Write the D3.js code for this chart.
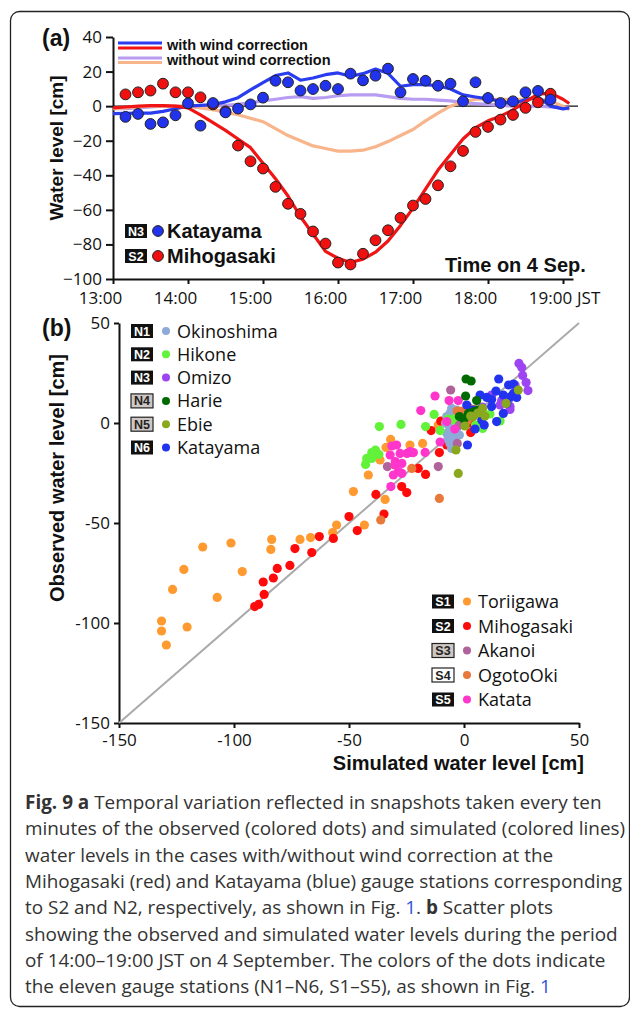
<!DOCTYPE html>
<html>
<head>
<meta charset="utf-8">
<script src="https://cdn.jsdelivr.net/npm/d3@7"></script>
<style>
  body { margin: 0; background: #fff; }
</style>
</head>
<body>
<div id="chart"></div>
<script>
// ---------- panel (a) data ----------
const obsTimes = ["13:10","13:20","13:30","13:40","13:50","14:00","14:10","14:20","14:30","14:40","14:50",
  "15:00","15:10","15:20","15:30","15:40","15:50","16:00","16:10","16:20","16:30","16:40","16:50",
  "17:00","17:10","17:20","17:30","17:40","17:50","18:00","18:10","18:20","18:30","18:40","18:50"];
const katayamaObs = [-6.2,-4.5,-10.3,-9.4,-5.3,1.6,-11.3,1.8,-3.6,-1.4,1,4.9,14.7,13.8,9,9.9,11.8,9.9,
  18.8,14.9,17.6,21.7,8,15.7,14.7,11.8,13,2.8,13.8,4.7,1.8,2.8,8,8.8,3.8];
const mihogasakiObs = [6.8,8,9,13,8,8,5.1,1,-3,-22.8,-31.9,-36.1,-46.7,-56.5,-62.3,-72.5,-79.5,-90.5,
  -91.6,-85.4,-77.6,-71.8,-64.6,-57.5,-53.7,-45.8,-34.8,-25.9,-14.9,-12,-7.8,-5.1,-1,2.2,7.2];

const simTimes = ["13:00","13:10","13:20","13:30","13:40","13:50","14:00","14:10","14:20","14:30","14:40","14:50",
  "15:00","15:10","15:20","15:30","15:40","15:50","16:00","16:10","16:20","16:30","16:40","16:50",
  "17:00","17:10","17:20","17:30","17:40","17:50","18:00","18:10","18:20","18:30","18:40","18:50","19:00","19:05"];
const katayamaWind = [-4.3,-4.2,-4,-4,-3,-1.5,0,0.5,0.9,2.5,4.9,9.4,13.6,17.7,19.2,15,16.3,18.2,19.2,17.3,
  18.8,21.5,19,11.5,12.4,12.4,11.8,9.9,6.5,5.3,4.2,2.8,1.2,3.8,5.3,0,-1.6,-1];
const mihogasakiWind = [-1,-0.5,0,0.3,0.3,0,-1,-5,-9.5,-14,-19,-24,-33,-42,-52,-64,-74,-84,-88,-90.5,
  -88.5,-84.5,-78,-69,-59,-48,-37,-28,-19,-12.5,-8.5,-5.8,-2.2,2.5,7,7.5,4,1.5];
const katayamaNoWind = [-1.5,-1.5,-1,-0.5,0,0,0,0,0,0.5,1,2,3,4,5,5.5,4.5,5,6,6.5,6.5,6.5,5.5,4.5,4,4,
  3.5,3,2,1.5,1,0.5,0,0,0,-0.5,-1,-1];
const mihogasakiNoWind = [-1.5,-1,-0.5,0,0,0,0,-1,-2,-3.5,-5,-7,-9,-13,-17,-20,-23,-24.5,-26,-26,-25.5,
  -23.5,-20.5,-17,-13.5,-8.5,-4,0,2.5,4,4,4,4,4,4,3,0,-2];

const hourTicks = ["13:00","14:00","15:00","16:00","17:00","18:00","19:00"];
const levelTicksA = [-100,-80,-60,-40,-20,0,20,40];

// ---------- panel (b) data: [simulated, observed] ----------
const okinoshima = [[-5.4,7.3],[-7.5,3.2],[-6.8,-1],[-7.5,-5.2],[-4,-6.8],[-2,-6],[-6.1,-10.2],[-5.4,-12.7],
  [-3.2,6.5],[-4.6,1.5],[-3.2,-2.7],[-1.7,-0.2],[-6.1,4.8],[-8,0],[-5,-3.5],[-3,3.5],[-7,-8]];
const hikone = [[-36.8,-1.8],[-27.4,-0.7],[-16.7,-1.8],[-13,4.3],[-10.4,-3.8],[-3.9,2.3],[8.1,-2.7],[11.3,4.5],
  [15.7,1],[-40.1,-14.8],[-42.3,-17.7],[-37,-15.7],[-42.8,-20.7],[-40.1,-17.7],[-38.5,-13.5],[-7,2],[5,-1],[-4.7,1.5]];
const omizo = [[23.9,29.8],[25.1,27.8],[25.5,23.8],[27,20.2],[27.8,16.2],[22.2,19],[20,6.8],[16.4,11.2],
  [19.3,11.5],[15.7,9],[20,8.2],[12,14],[8,8]];
const harie = [[0.9,22],[3.1,21],[0.7,13.5],[5.5,11.2],[-2,3.2],[1.9,4.8],[4.4,5.7],[6.2,6.5],[0,2]];
const ebie = [[23.6,16.5],[18.3,9.8],[8.1,7.3],[2.9,3.5],[9.1,3.5],[0.4,-1.5],[-3.5,-13.5],[-2.5,-25.2],
  [4.1,3.2],[6,5]];
const katayama = [[15.1,22],[19.4,19],[21.5,19.5],[13.9,16],[9.9,12.8],[7,14],[12,11.8],[17.1,14],[22.9,12.8],
  [21.5,14.8],[12,8.2],[17.1,4.8],[14.2,0.7],[8.8,-1],[4.8,-3],[1.5,-11],[7,4.8],[4.1,6.5],[1.2,9],
  [20.4,13.2],[18.6,9.8],[7.7,1.5]];
const toriigawa = [[-131.5,-99],[-131.5,-104],[-129.4,-111],[-120.4,-102],[-126.7,-83.2],[-121.8,-73.2],
  [-107.3,-87.2],[-96.4,-74.3],[-113.6,-62],[-101.3,-60],[-83.6,-58.2],[-84,-63.2],[-71.3,-58.2],[-66.7,-57.3],
  [-57.1,-54.8],[-55.4,-51],[-43.3,-51],[-48.1,-34.3],[-34.3,-38.2],[-41.6,-26],[-36.5,-18.5],[-31.9,-8.2],
  [-33.9,-12.2],[-23.5,-11],[-18,-10.2],[-11.2,-1],[-4,3],[-1,6]];
const mihogasaki = [[-91,-91.8],[-89.3,-90.7],[-86.9,-85.7],[-87.3,-79.5],[-82.9,-77.5],[-81.2,-72.7],
  [-75.7,-71.2],[-73.5,-62.8],[-66.2,-64.8],[-62.9,-56.8],[-56.8,-57.7],[-50,-46.8],[-46.4,-53.8],[-38.3,-35.7],
  [-34.8,-45.5],[-27.1,-31.8],[-24.9,-34.8],[-19.9,-22.7],[-16.7,-25.7],[-14.3,-3.8],[-10.7,-14.8],[-10.1,1],
  [-7.5,-11],[2.9,-4.8],[3.3,-0.2],[6,-1.5]];
const akanoi = [[-5.8,16.5],[-22.7,-14.8],[-33.3,-21.8],[-11.2,-21.8],[-2.9,-10.2],[-2,-1]];
const ogotoOki = [[-22.7,-22.7],[-10.7,-37.7],[-36.2,-48.5],[-1,5.7],[2.6,7.3],[4.7,6.7],[1.5,1.2],[-3,6]];
const katata = [[-12.6,13.5],[-6.5,11.2],[-2.5,11.2],[-18.8,6.2],[-7.5,0.7],[-10.4,-9.5],[-31.4,-11.5],
  [-29.3,-11],[-32.1,-16],[-29.9,-19.3],[-27,-20.2],[-24.8,-15.2],[-23.4,-14.3],[-28.5,-24.3],[-30.7,-26],
  [-27,-25.2],[-16.9,-14.7],[-31.8,-31.8],[-27.8,-15.2],[-30,-21],[-22,-14.8],[-4,-3]];

const levelTicksB = [-150,-100,-50,0,50];

const northCodes = ["N1","N2","N3","N4","N5","N6"];
const northNames = ["Okinoshima","Hikone","Omizo","Harie","Ebie","Katayama"];
const southCodes = ["S1","S2","S3","S4","S5"];
const southNames = ["Toriigawa","Mihogasaki","Akanoi","OgotoOki","Katata"];

// ---------- setup ----------
const W = 630, H = 1010;
const boldFont = "Liberation Sans, Arial, sans-serif";
const plainFont = "Open Sans, sans-serif";

const svg = d3.select("#chart").append("svg")
    .attr("width", W)
    .attr("height", H);

// figure frame
svg.append("rect")
    .attr("x", 10.5).attr("y", 11.5)
    .attr("width", 619).attr("height", 995)
    .attr("rx", 9)
    .attr("fill", "none")
    .attr("stroke", "#222")
    .attr("stroke-width", 1.3);

// code boxes (N1, S2 ...)
const boxStyle = {
  N1: "black", N2: "black", N3: "black", N4: "grey", N5: "grey", N6: "black",
  S1: "black", S2: "black", S3: "grey", S4: "white", S5: "black"
};
function codeBox(g, code, x, cy) {
  const st = boxStyle[code];
  g.append("rect")
      .attr("x", x).attr("y", cy - 7)
      .attr("width", 22).attr("height", 14)
      .attr("fill", st === "black" ? "#111" : st === "grey" ? "#cfc7c3" : "#fff")
      .attr("stroke", "#222")
      .attr("stroke-width", st === "black" ? 0 : 1.2);
  g.append("text")
      .attr("x", x + 11).attr("y", cy + 4.5)
      .attr("text-anchor", "middle")
      .attr("font-family", boldFont)
      .attr("font-weight", 700)
      .attr("font-size", "12.5px")
      .attr("fill", st === "black" ? "#fff" : "#222")
      .text(code);
}

// ================= panel (a) =================
const parseTime = d3.timeParse("%H:%M");
const xA = d3.scaleTime()
    .domain([parseTime("13:00"), parseTime("19:08")])
    .range([113, 573]);
const yA = d3.scaleLinear()
    .domain([-100, 40])
    .range([279, 37]);

const gA = svg.append("g");

// zero line
gA.append("line")
    .attr("x1", xA.range()[0]).attr("x2", 578)
    .attr("y1", yA(0)).attr("y2", yA(0))
    .attr("stroke", "#111").attr("stroke-width", 1.3);

// axes
const axA_x = gA.append("g")
    .attr("transform", `translate(0,${yA(-100)})`)
    .call(d3.axisBottom(xA)
        .tickValues(hourTicks.map(parseTime))
        .tickFormat(d3.timeFormat("%H:%M"))
        .tickSize(5).tickSizeOuter(0).tickPadding(8));
const axA_y = gA.append("g")
    .attr("transform", `translate(${xA.range()[0]},0)`)
    .call(d3.axisLeft(yA)
        .tickValues(levelTicksA)
        .tickSize(7).tickSizeOuter(0).tickPadding(4));
[axA_x, axA_y].forEach(ax => {
  ax.attr("font-family", plainFont).attr("font-size", "17px");
  ax.selectAll("text").attr("fill", "#111");
  ax.selectAll("path, line").attr("stroke", "#111").attr("stroke-width", 2);
});
// hour labels sit a little left of their ticks in the original
axA_x.selectAll("text").attr("dx", -13);

gA.append("text")
    .attr("x", 577).attr("y", 304)
    .attr("font-family", plainFont).attr("font-size", "17px").attr("fill", "#111")
    .text("JST");

// simulated lines
const lineA = d3.line()
    .x(d => xA(d.t))
    .y(d => yA(d.v));
const series = (times, vals) => vals.map((v, i) => ({t: parseTime(times[i]), v: v}));

[[katayamaNoWind, "#b79cf2"], [mihogasakiNoWind, "#f8b48a"],
 [katayamaWind, "#2a3cf0"], [mihogasakiWind, "#f01414"]].forEach(([vals, col]) => {
  gA.append("path")
      .datum(series(simTimes, vals))
      .attr("fill", "none")
      .attr("stroke", col)
      .attr("stroke-width", 3.2)
      .attr("stroke-linejoin", "round")
      .attr("d", lineA);
});

// observed dots
[[mihogasakiObs, "#f01010"], [katayamaObs, "#2233ee"]].forEach(([vals, col]) => {
  gA.append("g").selectAll("circle")
      .data(series(obsTimes, vals))
      .join("circle")
      .attr("cx", d => xA(d.t))
      .attr("cy", d => yA(d.v))
      .attr("r", 5.4)
      .attr("fill", col)
      .attr("stroke", "#222")
      .attr("stroke-width", 1);
});

// line legend
[[43, "#2a3cf0"], [48, "#f01414"], [58, "#b79cf2"], [62.5, "#f8b48a"]].forEach(([y, col]) => {
  gA.append("line")
      .attr("x1", 118).attr("x2", 162)
      .attr("y1", y).attr("y2", y)
      .attr("stroke", col).attr("stroke-width", 3.2);
});
gA.append("text").attr("x", 167).attr("y", 50)
    .attr("font-family", boldFont).attr("font-weight", 700).attr("font-size", "14.5px").attr("fill", "#111")
    .text("with wind correction");
gA.append("text").attr("x", 167).attr("y", 65)
    .attr("font-family", boldFont).attr("font-weight", 700).attr("font-size", "14.5px").attr("fill", "#111")
    .text("without wind correction");

// station legend
[["N3", "#2233ee", "Katayama", 231], ["S2", "#f01010", "Mihogasaki", 256]].forEach(([code, col, name, cy]) => {
  codeBox(gA, code, 125, cy);
  gA.append("circle").attr("cx", 158).attr("cy", cy).attr("r", 5.4)
      .attr("fill", col).attr("stroke", "#222").attr("stroke-width", 1);
  gA.append("text").attr("x", 167).attr("y", cy + 7)
      .attr("font-family", boldFont).attr("font-weight", 700).attr("font-size", "20px").attr("fill", "#111")
      .text(name);
});

gA.append("text").attr("x", 445).attr("y", 272)
    .attr("font-family", boldFont).attr("font-weight", 700).attr("font-size", "20px").attr("fill", "#111")
    .text("Time on 4 Sep.");

gA.append("text").attr("x", 42).attr("y", 46)
    .attr("font-family", boldFont).attr("font-weight", 700).attr("font-size", "23px").attr("fill", "#111")
    .text("(a)");

gA.append("text")
    .attr("transform", "translate(56,148) rotate(-90)")
    .attr("text-anchor", "middle").attr("dy", "0.35em")
    .attr("font-family", boldFont).attr("font-weight", 700).attr("font-size", "19px").attr("fill", "#111")
    .text("Water level [cm]");

// ================= panel (b) =================
const xB = d3.scaleLinear().domain([-150, 50]).range([119, 579]);
const yB = d3.scaleLinear().domain([-150, 50]).range([723, 323]);

const gB = svg.append("g");

const axB_x = gB.append("g")
    .attr("transform", `translate(0,${yB(-150)})`)
    .call(d3.axisBottom(xB).tickValues(levelTicksB).tickSize(5).tickSizeOuter(0).tickPadding(6));
const axB_y = gB.append("g")
    .attr("transform", `translate(${xB(-150)},0)`)
    .call(d3.axisLeft(yB).tickValues(levelTicksB).tickSize(5).tickSizeOuter(0).tickPadding(4));
[axB_x, axB_y].forEach(ax => {
  ax.attr("font-family", plainFont).attr("font-size", "17px");
  ax.selectAll("text").attr("fill", "#111").text(d => d);
  ax.selectAll("path, line").attr("stroke", "#111").attr("stroke-width", 2);
});

// 1:1 line
gB.append("line")
    .attr("x1", xB(-150)).attr("y1", yB(-150))
    .attr("x2", xB(50)).attr("y2", yB(50))
    .attr("stroke", "#aaa").attr("stroke-width", 2);

const stationColor = {
  Okinoshima: "#8eaad8", Hikone: "#62f23a", Omizo: "#9d45f2", Harie: "#006a00", Ebie: "#8aa81e",
  Katayama: "#2233f0", Toriigawa: "#ff9a30", Mihogasaki: "#ff0a0a", Akanoi: "#b0629a",
  OgotoOki: "#e8793a", Katata: "#ff35cc"
};
const drawOrder = [
  ["Toriigawa", toriigawa], ["Mihogasaki", mihogasaki], ["Okinoshima", okinoshima], ["Hikone", hikone],
  ["Akanoi", akanoi], ["OgotoOki", ogotoOki], ["Katata", katata], ["Omizo", omizo],
  ["Katayama", katayama], ["Harie", harie], ["Ebie", ebie]
];
drawOrder.forEach(([name, pts]) => {
  gB.append("g").selectAll("circle")
      .data(pts)
      .join("circle")
      .attr("cx", d => xB(d[0]))
      .attr("cy", d => yB(d[1]))
      .attr("r", 4.6)
      .attr("fill", stationColor[name]);
});

// legends
function stationLegend(codes, names, x0, y0, step) {
  codes.forEach((code, i) => {
    const cy = y0 + i * step;
    codeBox(gB, code, x0, cy);
    gB.append("circle").attr("cx", x0 + 35).attr("cy", cy).attr("r", 4)
        .attr("fill", stationColor[names[i]]);
    gB.append("text").attr("x", x0 + 46).attr("y", cy + 6.5)
        .attr("font-family", plainFont).attr("font-size", "18px").attr("fill", "#111")
        .text(names[i]);
  });
}
stationLegend(northCodes, northNames, 131, 331, 23.3);
stationLegend(southCodes, southNames, 432, 601.5, 24.5);

gB.append("text").attr("x", 42).attr("y", 336)
    .attr("font-family", boldFont).attr("font-weight", 700).attr("font-size", "23px").attr("fill", "#111")
    .text("(b)");

gB.append("text")
    .attr("transform", "translate(57,478) rotate(-90)")
    .attr("text-anchor", "middle").attr("dy", "0.35em")
    .attr("font-family", boldFont).attr("font-weight", 700).attr("font-size", "20px").attr("fill", "#111")
    .text("Observed water level [cm]");

gB.append("text")
    .attr("x", 584).attr("y", 770)
    .attr("text-anchor", "end")
    .attr("font-family", boldFont).attr("font-weight", 700).attr("font-size", "20px").attr("fill", "#111")
    .text("Simulated water level [cm]");

// ================= caption =================
const captionLines = [
  [["Fig. 9 a", "b"], [" Temporal variation reflected in snapshots taken every ten", ""]],
  [["minutes of the observed (colored dots) and simulated (colored lines)", ""]],
  [["water levels in the cases with/without wind correction at the", ""]],
  [["Mihogasaki (red) and Katayama (blue) gauge stations corresponding", ""]],
  [["to S2 and N2, respectively, as shown in Fig. ", ""], ["1", "l"], [". ", ""], ["b", "b"], [" Scatter plots", ""]],
  [["showing the observed and simulated water levels during the period", ""]],
  [["of 14:00\u201319:00 JST on 4 September. The colors of the dots indicate", ""]],
  [["the eleven gauge stations (N1\u2013N6, S1\u2013S5), as shown in Fig. ", ""], ["1", "l"]]
];
const cap = svg.append("g")
    .attr("font-family", plainFont)
    .attr("font-size", "17px")
    .attr("fill", "#333");
const capTexts = captionLines.map((segs, i) => {
  const t = cap.append("text").attr("x", 25).attr("y", 809 + i * 26.3);
  segs.forEach(([s, st]) => {
    t.append("tspan")
        .attr("font-weight", st === "b" ? 700 : 400)
        .attr("fill", st === "l" ? "#3452d8" : null)
        .text(s);
  });
  return t;
});
// fit first line to the width it has in the figure
const w0 = capTexts[0].node().getComputedTextLength();
cap.attr("font-size", (17 * 577 / w0).toFixed(2) + "px");
</script>
</body>
</html>
